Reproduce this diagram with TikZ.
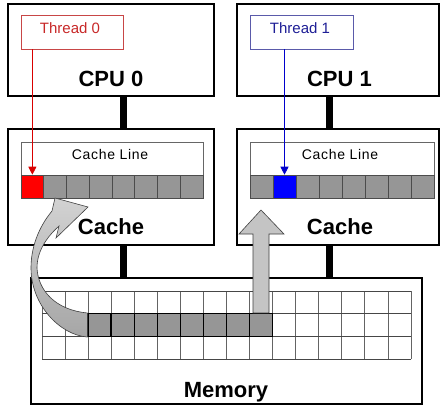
\documentclass[tikz,border=0pt]{standalone}
\usepackage{fontspec}
\setmainfont{Liberation Sans}
\usetikzlibrary{arrows.meta}
\definecolor{cellgray}{RGB}{150,150,150}
\definecolor{arrowgray}{RGB}{196,196,196}
\definecolor{threadred}{RGB}{200,40,40}
\definecolor{threadredline}{RGB}{200,70,70}
\definecolor{threadblue}{RGB}{30,30,150}
\definecolor{threadblueline}{RGB}{90,90,170}
\definecolor{gridgray}{RGB}{100,100,100}
\tikzset{
  box/.style={draw=black, line width=1.5pt, fill=white, inner sep=0pt},
  bigtext/.style={font=\bfseries\fontsize{22}{24}\selectfont, anchor=base, inner sep=0pt},
  smalltext/.style={font=\fontsize{15}{17}\selectfont, anchor=base, inner sep=0pt},
  linetext/.style={font=\addfontfeature{LetterSpace=5}\fontsize{14}{16}\selectfont, anchor=base, inner sep=0pt},
  threadbox/.style={draw=#1, line width=0.6pt, fill=white, inner sep=0pt, minimum height=34pt},
  linebox/.style={draw=gray!80!black, line width=0.6pt, fill=white, inner sep=0pt},
  cell/.style={draw=gray!60!black, line width=0.6pt, fill=#1, inner sep=0pt, minimum height=23pt},
  memcell/.style={draw=black, line width=1.4pt, fill=cellgray, inner sep=0pt, minimum width=23.0625pt, minimum height=22.667pt},
  bus/.style={line width=7pt, draw=black},
  ptr/.style={line width=0.6pt, -{Triangle[width=8pt,length=8pt]}},
}
\begin{document}
\begin{tikzpicture}[x=1pt,y=-1pt]
\useasboundingbox[fill=white] (0,0) rectangle (448,408);

\coordinate (bx0) at (123,0);
\coordinate (bx1) at (329,0);

% main boxes
\node[box, minimum width=206pt, minimum height=92pt] (cpu0) at (111,50) {};
\node[box, minimum width=202pt, minimum height=92pt] (cpu1) at (338,50) {};
\node[box, minimum width=206pt, minimum height=116pt] (cache0) at (111,187) {};
\node[box, minimum width=202pt, minimum height=116pt] (cache1) at (338,187) {};
\node[box, minimum width=391pt, minimum height=126pt] (mem) at (226.5,341) {};

\draw[bus] (cpu0.south -| bx0) -- (cache0.north -| bx0);
\draw[bus] (cache0.south -| bx0) -- (mem.north -| bx0);
\draw[bus] (cpu1.south -| bx1) -- (cache1.north -| bx1);
\draw[bus] (cache1.south -| bx1) -- (mem.north -| bx1);

% labels
\node[bigtext] (cpu0lbl) at (111,86) {CPU 0};
\node[bigtext] (cpu1lbl) at (339.5,86) {CPU 1};
\node[bigtext] (cache0lbl) at (111,234) {Cache};
\node[bigtext] (cache1lbl) at (340,234) {Cache};
\node[bigtext] (memlbl) at (226,397) {Memory};

% thread boxes
\node[threadbox=threadredline, minimum width=102pt] (t0) at (72,32) {};
\node[threadbox=threadblueline, minimum width=103pt] (t1) at (301.5,32) {};
\node[smalltext, text=threadred] (t0lbl) at (70,33.5) {Thread 0};
\node[smalltext, text=threadblue] (t1lbl) at (300,33.5) {Thread 1};

% cache lines
\node[linebox, minimum width=182pt, minimum height=56pt] (cl0) at (112,170) {};
\node[linebox, minimum width=184pt, minimum height=56pt] (cl1) at (342,170) {};
\node[linetext] (cl0lbl) at (110,159.5) {Cache Line};
\node[linetext] (cl1lbl) at (340,159.5) {Cache Line};

\foreach \i in {0,...,7}{
  \ifnum\i=0
    \node[cell=red, minimum width=22.75pt] (a\i) at ({21+22.75*(\i+0.5)},186.5) {};
  \else
    \node[cell=cellgray, minimum width=22.75pt] (a\i) at ({21+22.75*(\i+0.5)},186.5) {};
  \fi
  \ifnum\i=1
    \node[cell=blue, minimum width=23pt] (b\i) at ({250+23*(\i+0.5)},186.5) {};
  \else
    \node[cell=cellgray, minimum width=23pt] (b\i) at ({250+23*(\i+0.5)},186.5) {};
  \fi
}

% thread pointers
\draw[ptr, draw=red!85!black, fill=red!85!black] (t0.south -| a0.north) -- (a0.north);
\draw[ptr, draw=blue!80!black, fill=blue!80!black] (t1.south -| b1.north) -- (b1.north);

% memory grid
\foreach \c in {0,...,16}
  \draw[gridgray, line width=0.8pt] ({42+23.0625*\c},291) -- ({42+23.0625*\c},359);
\foreach \r in {0,...,3}
  \draw[gridgray!70!black, line width=0.8pt] (42,{291+22.667*\r}) -- (411,{291+22.667*\r});
\foreach \c in {2,...,9}
  \node[memcell] (m\c) at ({42+23.0625*(\c+0.5)},{291+22.667*1.5}) {};

% curved arrow from memory to cache 0
\shade[top color=gray!35, bottom color=gray!70, draw=gray!50!black, line width=0.6pt]
  (m2.north west) .. controls (55,310) and (38,290) .. (37,268)
  .. controls (37,250) and (48,236) .. (59,226)
  -- (56,238) -- (88,207) -- (55,198) -- (52,211)
  .. controls (38,228) and (31,248) .. (31,268)
  .. controls (31,305) and (60,335) .. (m2.south west) -- cycle;

% straight arrow from memory to cache 1
\filldraw[fill=arrowgray, draw=gray!50!black, line width=0.6pt]
  (m9.north -| 253,0) -- (253,234) -- (239,234) -- (261,210) -- (284,234)
  -- (269,234) -- (m9.north -| 269,0) -- cycle;
\end{tikzpicture}
\end{document}
